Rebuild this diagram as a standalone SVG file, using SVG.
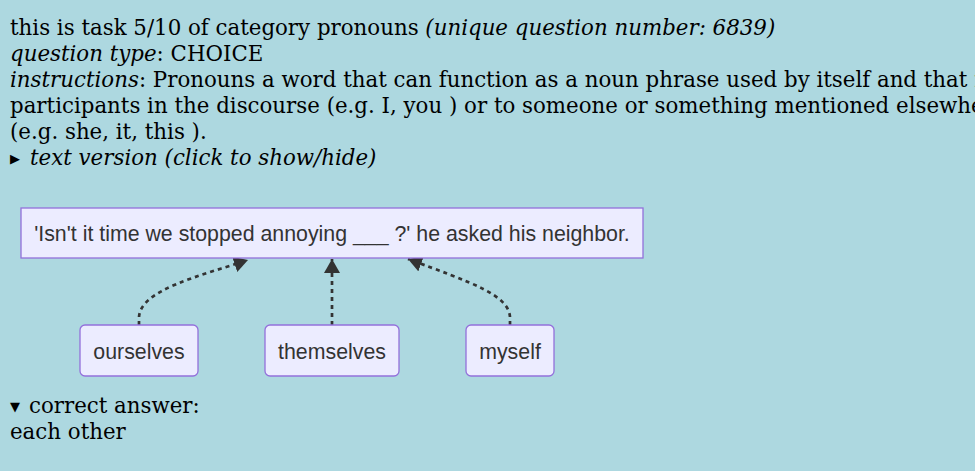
<svg xmlns="http://www.w3.org/2000/svg" width="975" height="471" viewBox="0 0 975 471">
<style>
.t{font-family:"DejaVu Serif",serif;font-size:21.33px;fill:#000}
.i{font-style:italic}
.sym{font-family:"DejaVu Sans",sans-serif;font-size:13px}
.box{fill:#ececff;stroke:#9370db;stroke-width:1.3}
.lbl{font-family:"Liberation Sans",Arial,sans-serif;font-size:21.33px;fill:#333;text-anchor:middle}
.edge{fill:none;stroke:#333;stroke-width:2.7;stroke-dasharray:4 4}
</style>
<defs>
<marker id="ah" viewBox="0 0 10 10" refX="10" refY="5" markerWidth="14" markerHeight="16" preserveAspectRatio="none" orient="auto" markerUnits="userSpaceOnUse">
<path d="M0,0 L10,5 L0,10 z" fill="#333"/>
</marker>
</defs>
<rect width="975" height="471" fill="#add8e0"/>
<g id="header">
<text class="t" x="10" y="35">this is task 5/10 of category pronouns <tspan class="i">(unique question number: 6839)</tspan></text>
<text class="t" x="10" y="61"><tspan class="i">question type</tspan>: CHOICE</text>
<text class="t" x="10" y="87"><tspan class="i">instructions</tspan>: Pronouns a word that can function as a noun phrase used by itself and that refers</text>
<text class="t" x="10" y="113">participants in the discourse (e.g. I, you ) or to someone or something mentioned elsewhere</text>
<text class="t" x="10" y="139">(e.g. she, it, this ).</text>
<text class="t" x="10" y="165"><tspan class="sym" y="163">▶</tspan><tspan class="i" x="30" y="165">text version (click to show/hide)</tspan></text>
</g>
<g id="connectors">
<path class="edge" d="M139,325 L139,318 C139,290 200,276 248,260" marker-end="url(#ah)"/>
<path class="edge" d="M332,325 L332,259" marker-end="url(#ah)"/>
<path class="edge" d="M510,325 L510,318 C510,295 470,282 408,259" marker-end="url(#ah)"/>
</g>
<g id="sentence">
<rect class="box" x="21" y="208" width="622" height="50"/>
<text class="lbl" x="332" y="241">'Isn't it time we stopped annoying ___ ?' he asked his neighbor.</text>
</g>
<g id="ourselves">
<rect class="box" x="80" y="325" width="118" height="51" rx="5"/>
<text class="lbl" x="139" y="359">ourselves</text>
</g>
<g id="themselves">
<rect class="box" x="265" y="325" width="134" height="51" rx="5"/>
<text class="lbl" x="332" y="359">themselves</text>
</g>
<g id="myself">
<rect class="box" x="466" y="325" width="88" height="51" rx="5"/>
<text class="lbl" x="510" y="359">myself</text>
</g>
<g id="answer">
<text class="t" x="10" y="413"><tspan class="sym" x="10" y="411">▼</tspan><tspan x="29" y="413">correct answer:</tspan></text>
<text class="t" x="10" y="439">each other</text>
</g>
</svg>
